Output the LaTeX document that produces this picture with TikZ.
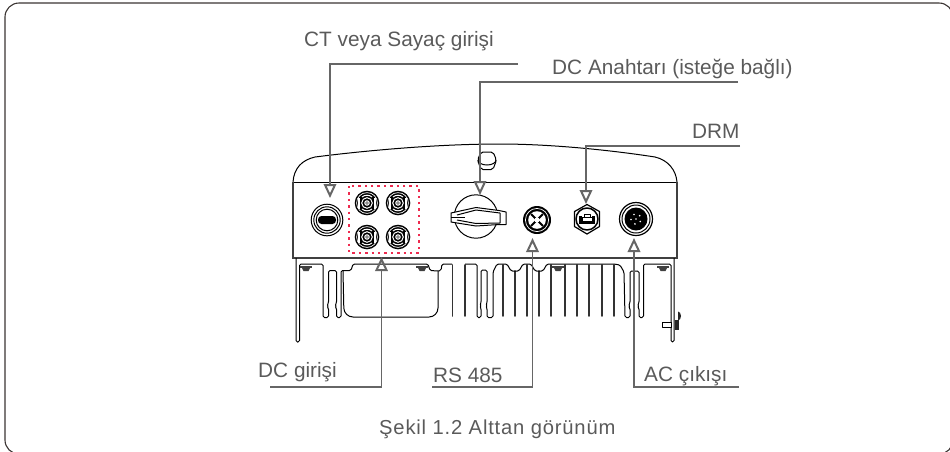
\documentclass[tikz,border=0pt]{standalone}
\usepackage{fontspec}
\setmainfont{Liberation Sans}
\newfontfamily\capfont[LetterSpace=4]{Liberation Sans}
\usetikzlibrary{arrows.meta}
\definecolor{labelgrey}{HTML}{5A5A5A}
\definecolor{leadgrey}{HTML}{666666}
\definecolor{framedark}{HTML}{3A3432}
\definecolor{dcred}{HTML}{EE2A4E}
\tikzset{
  x=1pt,y=-1pt,
  lbl/.style={font=\fontsize{20.8}{24}\selectfont,text=labelgrey,inner sep=0pt,anchor=base west},
  leader/.style={draw=leadgrey,line width=1.5pt,-{Triangle[open,length=14pt,width=12.5pt,line width=2pt]}},
  ink/.style={draw=black,line width=1pt,line join=round},
  fin/.style={draw=black!80,line width=1.8pt,line cap=round},
  ring/.style={draw=black,line width=1pt,fill=white},
}
\begin{document}
\begin{tikzpicture}
\useasboundingbox (0,0) rectangle (950,451);
\begin{scope}
\clip (0,0) rectangle (950,451);
\draw[framedark,line width=1.1pt,rounded corners=14pt] (5,3) rectangle (953,454);
\end{scope}
% ---- housing
\draw[ink] (293,182) .. controls (294,168) and (302,160) .. (315,157)
  .. controls (370,150) and (440,144) .. (500,144)
  .. controls (550,144) and (610,150) .. (655,157)
  .. controls (668,160) and (676,170) .. (677,182);
\draw[ink] (293,182) -- (677,182);
\draw[draw=black!75,line width=1.4pt] (293,182) -- (293,258) -- (677,258) -- (677,182);
% top nut
\draw[ink,fill=white,rounded corners=2pt] (477.5,160) -- (481,152) -- (493,152) -- (496.5,160) -- (493,169.5) -- (481,169.5) -- cycle;
\draw[ink] (478,160) arc (180:0:9 and 5);
% ---- lower section, left part
\draw[ink,rounded corners=1.5pt]
  (296,258) -- (296,342) -- (299.5,342) -- (299.5,264) -- (323,264) -- (323,317.5) -- (328.5,317.5)
  -- (328.5,308) -- (327,306) -- (328.5,303) -- (328.5,270.5) -- (336.5,270.5)
  -- (336.5,303) -- (335,306) -- (336.5,308) -- (336.5,317.5) -- (341,317.5) -- (341,270.5) -- (351,270.5) -- (353,264)
  -- (428,264) -- (430,270.5) -- (438,271) -- (441,270.5) -- (442,264) -- (452,264);
\draw[ink,rounded corners=9pt] (343,271) -- (344,317) -- (438,317) -- (438,271);
\foreach \xx/\yy in {452.5/265,465/265,503/265,515/271,527/265,539/271,551/265,565/265,577/265,589/265,602/265,614/265}
  \draw[fin] (\xx,\yy) -- (\xx,316);
% channels and ribs
\draw[ink,rounded corners=1.5pt]
  (465,264) -- (477,264) -- (477,317.5) -- (481,317.5) -- (481,308) -- (480,306) -- (481,303) -- (481,270)
  -- (487,270) -- (487,303) -- (486,306) -- (487,308) -- (487,317.5) -- (493,317.5) -- (493,272) -- (497,264)
  -- (507,264) -- (511,271) -- (519,271) -- (523,264) -- (531,264) -- (535,271) -- (543,271) -- (547,264)
  -- (614,264) -- (620,265) -- (624,272) -- (625,317.5) -- (630,317.5) -- (630,308) -- (628.5,306) -- (630,303) -- (630,271)
  -- (639,271) -- (639,303) -- (637.5,306) -- (639,308) -- (639,317.5) -- (643.5,317.5) -- (643.5,264) -- (671,264)
  -- (671,342) -- (674,342) -- (674,258);
% screws
\foreach \xx in {306,422,558,663}{
  \fill[black!75] (\xx-6,265.5) rectangle (\xx+6,268);
  \fill[black!75] (\xx-4,268) -- (\xx+4,268) -- (\xx+2.5,271) -- (\xx-2.5,271) -- cycle;
}
% side bolt
\draw[ink,fill=white] (662,322) rectangle (671,327);
\fill[black!85] (675,319.5) rectangle (678.5,329.5);
\fill[black!85] (678,320.5) arc (90:-90:3 and 4.5) -- cycle;
% ---- CT port
\draw[ring,fill=white] (327,220) circle (15.8);
\draw[ink] (327,220) circle (13.2);
\draw[ink] (327,220) circle (10.8);
\fill[black,rounded corners=3.5pt] (318,216) rectangle (336,224);
% ---- DC inputs
\draw[dcred,line width=1.6pt,dash pattern=on 2.4pt off 4pt] (349,186) rectangle (419,253);
\foreach \cx/\cy in {367/203,398/203,367/237,398/237}{
  \fill[black] (\cx,\cy) circle (12.3);
  \draw[white,line width=.7pt] (\cx,\cy) circle (10.4);
  \draw[white,line width=1pt] (\cx,\cy) ++(50:7.8) arc (50:130:7.8);
  \draw[white,line width=1pt] (\cx,\cy) ++(230:7.8) arc (230:310:7.8);
  \fill[white] (\cx-9.2,\cy-5.5) rectangle (\cx-6.8,\cy+5.5);
  \fill[white] (\cx+6.8,\cy-5.5) rectangle (\cx+9.2,\cy+5.5);
  \draw[white,line width=1pt] (\cx,\cy) circle (5.3);
  \fill[white] (\cx,\cy) circle (2.8);
  \draw[black!60,line width=.6pt] (\cx,\cy) circle (1.4);
}
% ---- switch
\draw[ink,fill=white] (476,216.5) circle (21.7);
\draw[ink,fill=white] (451,213) -- (476,207.5) -- (499,210.5) -- (506,212) -- (506,224.5) -- (499,224.5) -- (476,226) -- (451,222) -- cycle;
\draw[ink] (457,215) -- (476,210) -- (500,213) -- (500,223) -- (476,223.5) -- (457,220);
\draw[ink] (451,217.5) -- (465,217.5);
% ---- RS 485 port
\fill[black] (537,220) circle (14);
\draw[white,line width=.7pt] (537,220) circle (11.6);
\fill[white] (537,220) circle (8.8);
\draw[black,line width=2pt] (531,214) -- (543,226) (543,214) -- (531,226);
\fill[white] (537,220) circle (2.6);
% ---- DRM port
\draw[ink,fill=white,line width=1.2pt] (587,204.5) -- (599.5,211.5) -- (599.5,226.5) -- (587,234) -- (574.5,226.5) -- (574.5,211.5) -- cycle;
\draw[ink,line width=1.5pt] (587,219) circle (11);
\fill[black] (579,216) rectangle (595,224);
\fill[white] (582,212.5) rectangle (592,221);
\draw[ink] (582,217) rectangle (592,221);
\draw[ink] (584,217) -- (584,214) -- (590,214) -- (590,217);
% ---- AC port
\draw[ring,line width=1.2pt] (636,219) circle (16.5);
\draw[ink] (636,219) circle (14);
\fill[black] (636,219) circle (11.5);
\foreach \aa in {30,102,174,246,318}
  \fill[white] (636,219) ++(\aa:5) circle (.9);
\fill[white] (636,219) circle (.8);
% ---- labels
\node[lbl] (ctL)  at (304,46) {CT veya Sayaç girişi};
\node[lbl] (swL)  at (552,74) {DC Anahtarı (isteğe bağlı)};
\node[lbl] (drmL) at (692,138) {DRM};
\node[lbl] (dcL)  at (258,377) {DC girişi};
\node[lbl] (rsL)  at (433,382.5) {RS 485};
\node[lbl] (acL)  at (644,381) {AC çıkışı};
\node[lbl,font=\capfont\fontsize{20.2}{24}\selectfont] (capL) at (379,434) {Şekil 1.2 Alttan görünüm};
% ---- leaders
\coordinate (ctS) at (518,64);   \coordinate (ctT) at (330,198);
\coordinate (swS) at (738,82);   \coordinate (swT) at (480,195);
\coordinate (drS) at (740,146);  \coordinate (drT) at (586,204);
\coordinate (dcS) at (270,387);  \coordinate (dcT) at (381.5,257);
\coordinate (rsS) at (432,387);  \coordinate (rsT) at (532.5,238);
\coordinate (acS) at (739,387);  \coordinate (acT) at (634,238);
\draw[leader] (ctS) -| (ctT);
\draw[leader] (swS) -| (swT);
\draw[leader] (drS) -| (drT);
\draw[leader] (dcS) -| (dcT);
\draw[leader] (rsS) -| (rsT);
\draw[leader] (acS) -| (acT);
\end{tikzpicture}
\end{document}
